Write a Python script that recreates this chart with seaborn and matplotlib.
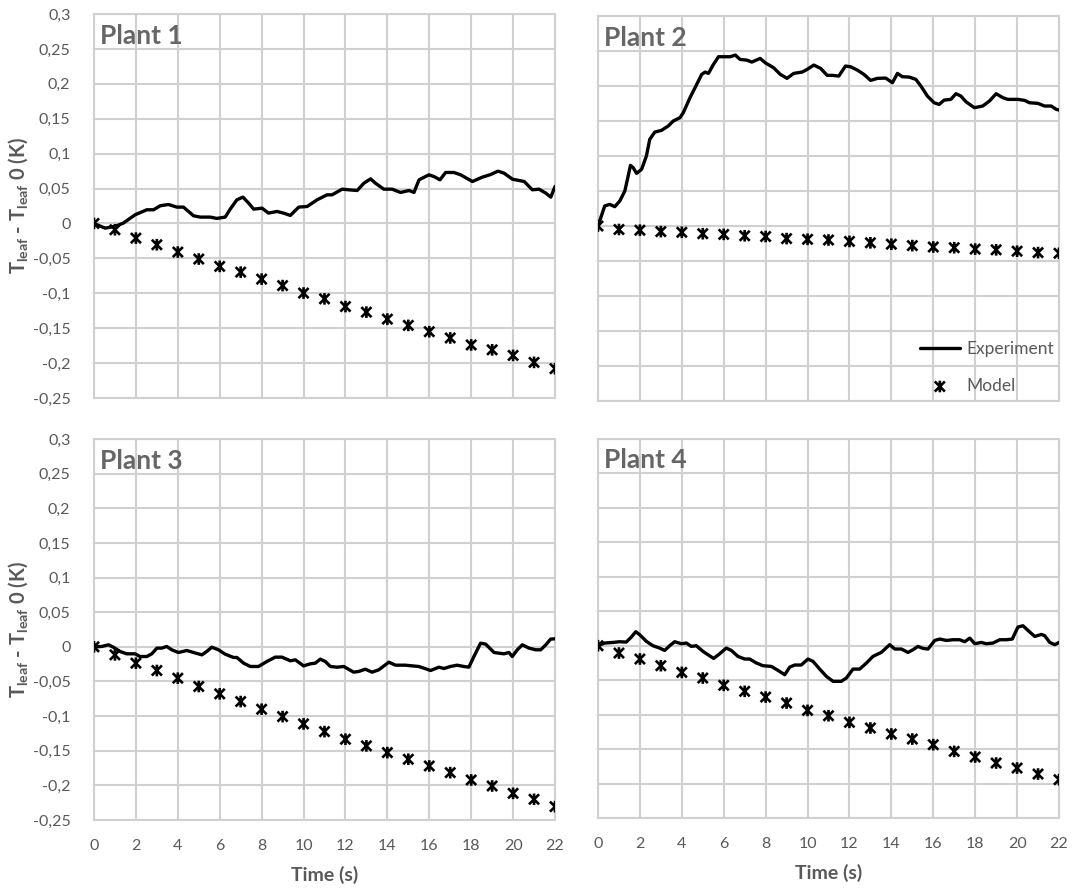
import numpy as np
import pandas as pd
import seaborn as sns
import matplotlib
matplotlib.use("Agg")
import matplotlib.pyplot as plt
from matplotlib.path import Path

# ---------------- data ----------------
plants = ["Plant 1", "Plant 2", "Plant 3", "Plant 4"]
model_time = list(range(0, 23))

model_p1 = [0.0, -0.009, -0.021, -0.0305, -0.041, -0.051, -0.0615, -0.0697, -0.0797, -0.089, -0.0997,
            -0.108, -0.119, -0.127, -0.137, -0.146, -0.155, -0.164, -0.174, -0.181, -0.189, -0.199, -0.208]
model_p2 = [0.0, -0.005, -0.006, -0.008, -0.009, -0.011, -0.012, -0.014, -0.015, -0.018, -0.019, -0.020,
            -0.022, -0.024, -0.026, -0.028, -0.030, -0.031, -0.033, -0.034, -0.036, -0.038, -0.039]
model_p3 = [0.0, -0.0116, -0.0236, -0.0342, -0.0453, -0.0573, -0.0679, -0.079, -0.0901, -0.1007, -0.1113,
            -0.1224, -0.1334, -0.143, -0.1527, -0.1623, -0.172, -0.1816, -0.1922, -0.2009, -0.2115, -0.2201, -0.2307]
model_p4 = [0.0, -0.0106, -0.0193, -0.029, -0.0387, -0.0469, -0.0575, -0.0662, -0.0745, -0.0832, -0.0938,
            -0.1016, -0.1112, -0.1194, -0.1281, -0.1354, -0.1436, -0.1533, -0.1615, -0.1702, -0.1775, -0.1862, -0.1944]

exp_t1 = [0, 0.53, 1.0, 1.40, 1.96, 2.52, 2.84, 3.16, 3.55, 3.95, 4.27, 4.75, 5.07, 5.55, 5.86, 6.26, 6.50,
          6.82, 7.11, 7.38, 7.62, 8.02, 8.33, 8.73, 9.05, 9.37, 9.77, 10.17, 10.65, 11.12, 11.36, 11.84, 12.16,
          12.56, 12.88, 13.20, 13.43, 13.83, 14.23, 14.63, 15.03, 15.27, 15.51, 15.98, 16.22, 16.51, 16.78,
          17.18, 17.50, 18.06, 18.53, 18.93, 19.28, 19.57, 19.97, 20.53, 20.92, 21.24, 21.56, 21.80, 22.0]
exp_v1 = [0.0, -0.0067, -0.0043, 0.0005, 0.0124, 0.0196, 0.0196, 0.0253, 0.0272, 0.0234, 0.0234, 0.011,
          0.0091, 0.0091, 0.0072, 0.0091, 0.0205, 0.0339, 0.0377, 0.0291, 0.0205, 0.0219, 0.0148, 0.0172,
          0.0148, 0.0115, 0.0234, 0.0243, 0.0339, 0.041, 0.041, 0.0491, 0.0482, 0.0472, 0.0577, 0.0639,
          0.0577, 0.0491, 0.0491, 0.0444, 0.0472, 0.0444, 0.0625, 0.0696, 0.0673, 0.0625, 0.073, 0.073,
          0.0696, 0.0601, 0.0663, 0.0701, 0.0749, 0.072, 0.0634, 0.0601, 0.0482, 0.0491, 0.0434, 0.0377, 0.053]

exp_t2 = [0, 0.16, 0.32, 0.56, 0.80, 1.04, 1.28, 1.44, 1.55, 1.68, 1.84, 2.08, 2.31, 2.47, 2.71, 3.03, 3.35,
          3.59, 3.91, 4.07, 4.39, 4.71, 4.95, 5.11, 5.27, 5.51, 5.75, 5.99, 6.31, 6.55, 6.78, 7.10, 7.34, 7.74,
          7.98, 8.38, 8.70, 9.02, 9.34, 9.74, 9.98, 10.30, 10.62, 10.94, 11.18, 11.49, 11.81, 12.05, 12.37,
          12.69, 13.01, 13.33, 13.73, 14.05, 14.29, 14.53, 14.85, 15.17, 15.41, 15.72, 16.04, 16.28, 16.52,
          16.84, 17.08, 17.32, 17.56, 17.96, 18.36, 18.68, 19.00, 19.32, 19.56, 20.04, 20.35, 20.59, 20.99,
          21.31, 21.63, 21.87, 22.0]
exp_v2 = [0.0, 0.0143, 0.0286, 0.0309, 0.0276, 0.0357, 0.05, 0.0714, 0.0866, 0.0833, 0.0752, 0.0809, 0.1,
          0.1238, 0.1342, 0.1366, 0.1428, 0.15, 0.1547, 0.1618, 0.1833, 0.2023, 0.2166, 0.2199, 0.218, 0.2309,
          0.2418, 0.2418, 0.2418, 0.2442, 0.238, 0.237, 0.2342, 0.2394, 0.2332, 0.2261, 0.2166, 0.2109, 0.218,
          0.2199, 0.2237, 0.2299, 0.2252, 0.2152, 0.2152, 0.2142, 0.2285, 0.2275, 0.2228, 0.2166, 0.208,
          0.2109, 0.2113, 0.2047, 0.218, 0.2132, 0.2128, 0.2094, 0.1999, 0.1856, 0.1761, 0.1737, 0.1799,
          0.1809, 0.189, 0.1856, 0.1775, 0.169, 0.1714, 0.1785, 0.189, 0.1833, 0.1809, 0.1809, 0.1795, 0.1761,
          0.1752, 0.1714, 0.1714, 0.1666, 0.1657]

exp_t3 = [0, 0.37, 0.69, 0.92, 1.24, 1.56, 1.96, 2.20, 2.52, 2.76, 3.0, 3.23, 3.47, 3.71, 4.03, 4.43, 4.75,
          5.15, 5.38, 5.62, 5.94, 6.26, 6.66, 6.82, 7.14, 7.46, 7.85, 8.25, 8.65, 8.97, 9.37, 9.61, 10.0,
          10.32, 10.56, 10.80, 11.04, 11.28, 11.60, 11.92, 12.39, 12.63, 12.95, 13.27, 13.59, 14.07, 14.39,
          14.86, 15.18, 15.50, 15.74, 16.06, 16.46, 16.70, 17.01, 17.33, 17.65, 17.89, 18.13, 18.45, 18.69,
          19.09, 19.56, 19.80, 19.96, 20.20, 20.44, 20.76, 21.08, 21.32, 21.56, 21.79, 22.0]
exp_v3 = [0.0, 0.0005, 0.0029, -0.0005, -0.0067, -0.0101, -0.0101, -0.014, -0.014, -0.0101, -0.0019,
          -0.0019, 0.0005, -0.0043, -0.0082, -0.0053, -0.0082, -0.0116, -0.0067, -0.0005, -0.0043, -0.0106,
          -0.0154, -0.0154, -0.0236, -0.0284, -0.0284, -0.0212, -0.0149, -0.0149, -0.0202, -0.0188, -0.0275,
          -0.0246, -0.0236, -0.0178, -0.0212, -0.0284, -0.0294, -0.0284, -0.0366, -0.0356, -0.0323, -0.0366,
          -0.0332, -0.0222, -0.0265, -0.0265, -0.0275, -0.0284, -0.0308, -0.0342, -0.0294, -0.0313, -0.0284,
          -0.0265, -0.0284, -0.0294, -0.014, 0.0053, 0.0039, -0.0082, -0.0101, -0.0082, -0.014, -0.0043,
          0.0029, -0.0019, -0.0043, -0.0043, 0.0029, 0.0111, 0.0116]

exp_t4 = [0, 0.32, 0.72, 1.03, 1.35, 1.59, 1.80, 1.99, 2.31, 2.62, 2.94, 3.18, 3.42, 3.66, 3.98, 4.22, 4.45,
          4.69, 5.01, 5.25, 5.52, 5.81, 6.12, 6.36, 6.68, 7.0, 7.24, 7.56, 7.87, 8.27, 8.59, 8.91, 9.15, 9.39,
          9.70, 10.02, 10.26, 10.58, 10.90, 11.22, 11.61, 11.85, 12.17, 12.49, 12.81, 13.12, 13.52, 13.92,
          14.16, 14.48, 14.79, 15.03, 15.27, 15.51, 15.75, 16.07, 16.31, 16.62, 16.94, 17.26, 17.50, 17.74,
          17.98, 18.29, 18.53, 18.85, 19.17, 19.49, 19.77, 20.04, 20.28, 20.52, 20.84, 21.16, 21.32, 21.56,
          21.80, 22.0]
exp_v4 = [0.0, 0.0039, 0.0048, 0.0058, 0.0053, 0.0126, 0.0203, 0.016, 0.0063, 0.0, -0.0034, -0.0068, 0.0,
          0.0058, 0.0029, 0.0039, -0.001, 0.0, -0.0082, -0.0131, -0.0184, -0.0116, -0.0034, -0.0068, -0.0155,
          -0.0193, -0.0193, -0.0251, -0.029, -0.03, -0.0358, -0.0421, -0.031, -0.028, -0.028, -0.0193,
          -0.0227, -0.0339, -0.0445, -0.0517, -0.0517, -0.0469, -0.0339, -0.0339, -0.0251, -0.0155, -0.0097,
          0.0015, -0.0048, -0.0048, -0.0097, -0.0058, -0.001, -0.0039, -0.0048, 0.0077, 0.0097, 0.0077,
          0.0087, 0.0087, 0.0058, 0.0111, 0.0029, 0.0048, 0.0029, 0.0039, 0.0087, 0.0087, 0.0097, 0.0271,
          0.029, 0.0222, 0.0135, 0.0164, 0.0145, 0.0048, 0.0015, 0.0048]

xticks = [0, 2, 4, 6, 8, 10, 12, 14, 16, 18, 20, 22]
yticks = [-0.25, -0.2, -0.15, -0.1, -0.05, 0, 0.05, 0.1, 0.15, 0.2, 0.25, 0.3]
ytick_labels = ["-0,25", "-0,2", "-0,15", "-0,1", "-0,05", "0", "0,05", "0,1", "0,15", "0,2", "0,25", "0,3"]
legend_labels = ["Experiment", "Model"]
xlabel = "Time (s)"
ylabel = r"T$_{\mathregular{leaf}}$ - T$_{\mathregular{leaf}}$ 0 (K)"

# ---------------- style ----------------
sns.set_theme(style="white")
plt.rcParams["font.family"] = ["Lato", "DejaVu Sans"]

GRID = "#d0d0d0"
TXT = "#595959"
TITLE = "#666666"

star = Path([(-1, -1), (1, 1), (-1, 1), (1, -1), (0, -1.15), (0, 1.15)],
            [Path.MOVETO, Path.LINETO, Path.MOVETO, Path.LINETO, Path.MOVETO, Path.LINETO])

W, H = 1073, 888
fig = plt.figure(figsize=(W / 100, H / 100), dpi=100)

# axes boxes in pixel coords: left, top, right, bottom
boxes = [(94, 14, 555, 398), (598, 16, 1059, 401), (94, 439, 555, 820), (598, 439, 1059, 818)]

exp_t = [exp_t1, exp_t2, exp_t3, exp_t4]
exp_v = [exp_v1, exp_v2, exp_v3, exp_v4]
models = [model_p1, model_p2, model_p3, model_p4]

for i, (l, t, r, b) in enumerate(boxes):
    ax = fig.add_axes([l / W, 1 - b / H, (r - l) / W, (b - t) / H])
    df_e = pd.DataFrame({"t": exp_t[i], "v": exp_v[i]})
    df_m = pd.DataFrame({"t": model_time, "v": models[i]})
    sns.lineplot(data=df_e, x="t", y="v", ax=ax, color="black", linewidth=2.4,
                 label=legend_labels[0], zorder=3, sort=False)
    sns.scatterplot(data=df_m, x="t", y="v", ax=ax, marker=star, s=70,
                    color="black", linewidth=1.9, label=legend_labels[1], zorder=4)
    for coll in ax.collections:
        coll.set_facecolor("none")
        coll.set_edgecolor("black")

    ax.set_xlim(0, 22)
    ax.set_ylim(-0.25, 0.3)
    ax.set_xticks(xticks)
    ax.set_yticks(yticks)
    ax.grid(True, color=GRID, linewidth=1.5)
    ax.set_axisbelow(True)
    for sp in ax.spines.values():
        sp.set_color(GRID)
        sp.set_linewidth(1.5)
    ax.tick_params(length=0, labelsize=11.5, labelcolor=TXT)

    if i % 2 == 0:
        ax.set_yticklabels(ytick_labels)
        ax.tick_params(axis="y", pad=17)
        ax.set_ylabel(ylabel, fontsize=14.5, fontweight="bold", color=TXT, labelpad=2)
    else:
        ax.set_yticklabels([])
        ax.set_ylabel("")
    if i >= 2:
        ax.set_xticklabels([str(x) for x in xticks])
        ax.tick_params(axis="x", pad=14)
        ax.set_xlabel(xlabel, fontsize=14, fontweight="bold", color=TXT, labelpad=9)
    else:
        ax.set_xticklabels([])
        ax.set_xlabel("")

    ax.text(0.012, 0.975, plants[i], transform=ax.transAxes, ha="left", va="top",
            fontsize=19, fontweight="bold", color=TITLE, zorder=5)

    if i == 1:
        leg = ax.legend(loc="lower right", frameon=False, fontsize=12.5,
                        labelcolor=TXT, handlelength=2.3, handletextpad=0.4,
                        borderaxespad=0.0, labelspacing=1.2,
                        bbox_to_anchor=(1.005, 0.0))
    else:
        ax.get_legend().remove()

fig.savefig("out.png", dpi=100)
